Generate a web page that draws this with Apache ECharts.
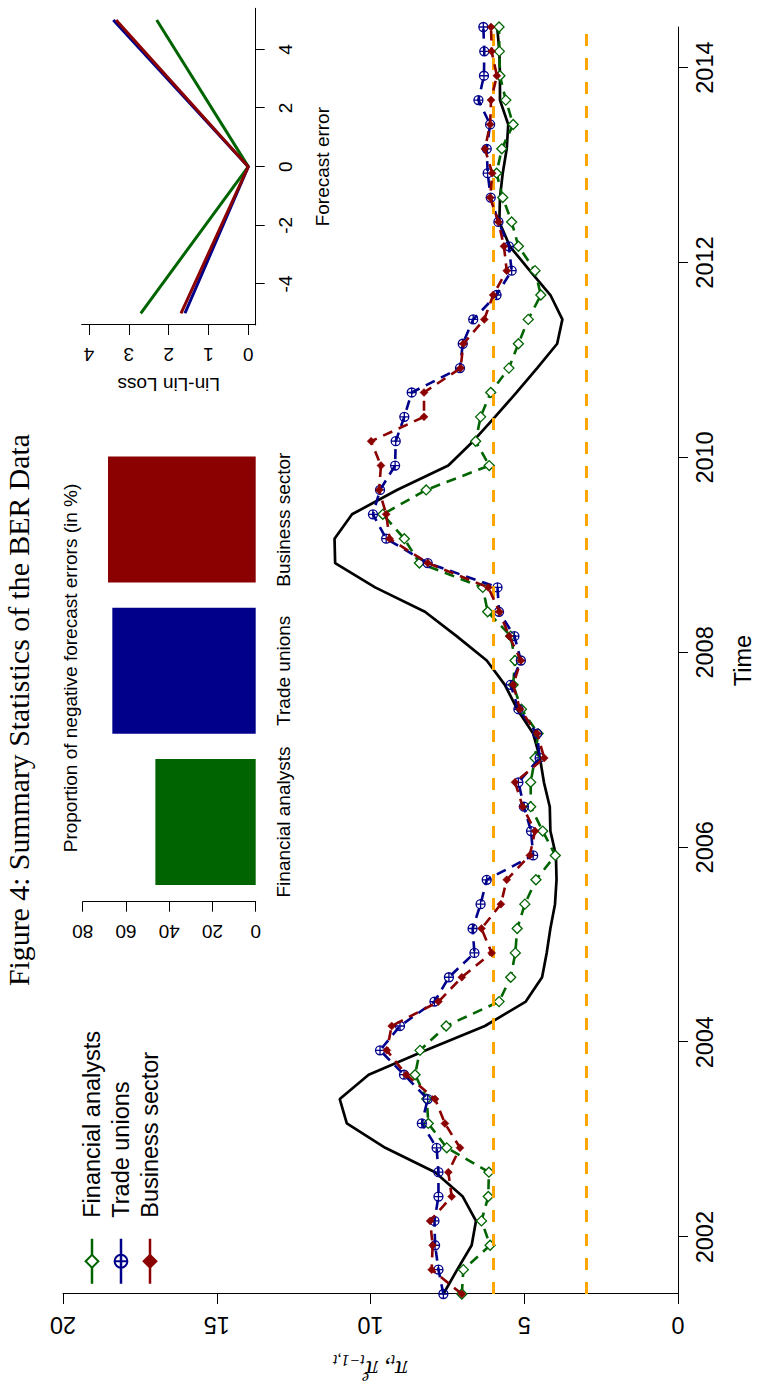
<!DOCTYPE html>
<html>
<head>
<meta charset="utf-8">
<script src="https://cdn.jsdelivr.net/npm/echarts@6/dist/echarts.min.js"></script>
<style>
  html, body { margin: 0; padding: 0; width: 760px; height: 1394px; overflow: hidden; background: #fff; }
  #c { position: absolute; left: 0; top: 0; width: 1394px; height: 760px;
       transform-origin: 0 0; transform: translate(0px, 1394px) rotate(-90deg); }
</style>
</head>
<body>
<div id="c"></div>
<script>
// ---------------- DATA ----------------
const dates = ['2001-06','2001-09','2001-12',
  '2002-03','2002-06','2002-09','2002-12','2003-03','2003-06','2003-09','2003-12',
  '2004-03','2004-06','2004-09','2004-12','2005-03','2005-06','2005-09','2005-12',
  '2006-03','2006-06','2006-09','2006-12','2007-03','2007-06','2007-09','2007-12',
  '2008-03','2008-06','2008-09','2008-12','2009-03','2009-06','2009-09','2009-12',
  '2010-03','2010-06','2010-09','2010-12','2011-03','2011-06','2011-09','2011-12',
  '2012-03','2012-06','2012-09','2012-12','2013-03','2013-06','2013-09','2013-12',
  '2014-03','2014-06'];
const actual = [7.63,7.18,6.71,6.57,7.00,7.90,9.52,10.77,11.00,10.06,8.20,6.28,4.95,4.42,4.27,4.15,4.00,3.95,3.97,4.15,
  4.17,4.36,4.49,4.71,5.23,5.63,6.22,7.20,8.23,9.85,11.15,11.17,10.60,9.14,7.47,6.66,5.95,5.25,4.58,3.93,
  3.76,4.15,4.82,5.47,5.81,5.79,5.70,5.57,5.52,5.79,5.79,5.81,5.88];
const financial = [7.03,6.98,6.11,6.39,6.17,6.15,7.52,8.12,8.17,8.55,8.39,7.54,5.82,5.44,5.29,5.23,4.98,4.62,3.99,4.40,
  4.79,4.79,4.65,4.55,5.09,5.36,5.30,5.44,6.19,6.35,8.41,8.90,9.60,8.19,6.14,6.58,6.42,6.09,5.50,5.19,
  4.87,4.46,4.65,5.19,5.41,5.70,5.90,5.73,5.36,5.60,5.79,5.81,5.82];
const tradeUnions = [7.63,7.79,7.90,7.92,7.79,7.79,7.85,8.33,8.14,8.91,9.69,9.04,7.92,7.45,6.62,6.68,6.42,6.22,4.71,4.78,
  5.01,5.19,4.50,4.58,5.19,5.44,5.11,5.32,5.82,5.87,8.14,9.49,9.92,9.69,9.20,9.18,8.90,8.66,7.09,7.00,
  6.66,5.90,5.41,5.50,5.84,6.09,6.19,6.22,6.11,6.49,6.31,6.30,6.33];
const business = [7.03,8.01,7.98,8.06,7.36,7.47,7.09,7.58,7.90,8.84,9.47,9.31,7.79,7.03,6.06,6.39,5.76,5.57,4.82,4.65,
  5.05,5.30,4.35,4.58,5.14,5.36,5.11,5.49,5.81,6.17,8.14,9.38,9.49,9.72,9.66,9.98,8.26,8.26,7.07,6.98,
  6.30,6.01,5.57,5.66,5.84,6.11,6.04,6.28,6.11,6.08,5.89,6.06,6.08];
const targetBand = [6, 3];
const yearTicks = [2002, 2004, 2006, 2008, 2010, 2012, 2014];

const groups = ['Financial analysts', 'Trade unions', 'Business sector'];
const negShare = [46.4, 66.3, 68.3];

const errorPoints = [-5, 0, 5];
const lossFinancial = [2.70, 0, 2.30];
const lossTrade = [1.59, 0, 3.39];
const lossBusiness = [1.69, 0, 3.32];
const errorTicks = [-4, -2, 0, 2, 4];
const lossTicks = [0, 1, 2, 3, 4];

// ---------------- STYLE ----------------
const GREEN = '#006400', BLUE = '#00008B', RED = '#8B0000', ORANGE = '#FFA500';
const SANS = 'Liberation Sans, Arial, Helvetica, sans-serif';
const SERIF = 'Liberation Serif, Times New Roman, serif';
const F_MAIN = 23.5, F_IN = 19;

const xs = dates.map(d => { const p = d.split('-'); return +p[0] + (+p[1] - 1) / 12; });
const pair = arr => arr.map((v, i) => [xs[i], v]);
const pairE = arr => arr.map((v, i) => [errorPoints[i], v]);

const axisLineStyle = { color: '#000', width: 1 };
const dash = [10, 7];
const plusCircle = 'path://M0,-10A10,10,0,1,1,0,10A10,10,0,1,1,0,-10ZM-10,0L10,0M0,-10L0,10';

const chart = echarts.init(document.getElementById('c'), null, { renderer: 'svg', width: 1394, height: 760 });

const option = {
  animation: false,
  backgroundColor: '#fff',
  textStyle: { fontFamily: SANS, color: '#000' },
  title: [
    { text: 'Figure 4: Summary Statistics of the BER Data', left: 684, top: 3, textAlign: 'center', padding: 0,
      textStyle: { fontFamily: SERIF, fontSize: 29.8, fontWeight: 'normal', color: '#000' } },
    { text: 'Proportion of negative forecast errors (in %)', left: 726, top: 61, textAlign: 'center', padding: 0,
      textStyle: { fontFamily: SANS, fontSize: F_IN, fontWeight: 'normal', color: '#000' } }
  ],
  legend: {
    data: groups, orient: 'vertical', left: 104, top: 75,
    itemWidth: 45, itemHeight: 16, itemGap: 5,
    textStyle: { fontFamily: SANS, fontSize: F_MAIN, color: '#000', lineHeight: 24, padding: [0, 0, 0, 16] },
    lineStyle: { type: 'solid', width: 2.5 }
  },
  grid: [
    { left: 99, right: 27, top: 63, bottom: 81.7 },
    { left: 496.4, width: 453.6, top: 82.7, bottom: 504.3 },
    { left: 1069, right: 8.3, top: 81.7, bottom: 504.3 }
  ],
  xAxis: [
    { gridIndex: 0, type: 'value', min: xs[0], max: xs[xs.length - 1],
      axisLine: { show: true, onZero: false, lineStyle: axisLineStyle },
      axisTick: { show: true, length: 10, customValues: yearTicks, lineStyle: axisLineStyle },
      axisLabel: { customValues: yearTicks, fontSize: F_MAIN, color: '#000', margin: 15, fontFamily: SANS,
                   formatter: v => String(Math.round(v)) },
      splitLine: { show: false },
      name: 'Time', nameLocation: 'middle', nameGap: 53,
      nameTextStyle: { fontSize: F_MAIN, color: '#000', fontFamily: SANS } },
    { gridIndex: 1, type: 'category', data: groups,
      axisLine: { show: false }, axisTick: { show: false },
      axisLabel: { fontSize: F_IN, color: '#000', margin: 18, fontFamily: SANS, interval: 0 } },
    { gridIndex: 2, type: 'value', min: -5.4, max: 5.4,
      axisLine: { show: true, onZero: false, lineStyle: axisLineStyle },
      axisTick: { show: true, length: 9, customValues: errorTicks, lineStyle: axisLineStyle },
      axisLabel: { customValues: errorTicks, fontSize: F_IN, color: '#000', margin: 20, fontFamily: SANS },
      splitLine: { show: false },
      name: 'Forecast error', nameLocation: 'middle', nameGap: 57,
      nameTextStyle: { fontSize: F_IN, color: '#000', fontFamily: SANS } }
  ],
  yAxis: [
    { gridIndex: 0, type: 'value', min: 0, max: 20, interval: 5,
      axisLine: { show: true, onZero: false, lineStyle: axisLineStyle },
      axisTick: { show: true, length: 10, lineStyle: axisLineStyle },
      axisLabel: { rotate: 90, fontSize: F_MAIN, color: '#000', margin: 19, fontFamily: SANS },
      splitLine: { show: false },
      name: '{pi|π}{sb|t}{pi|, π}{sp|e}{sb|t−1,t}', nameLocation: 'middle', nameGap: 58, nameRotate: 90,
      nameTextStyle: { rich: {
        pi: { fontFamily: SERIF, fontStyle: 'italic', fontSize: 25, lineHeight: 34, verticalAlign: 'middle', color: '#000' },
        sb: { fontFamily: SERIF, fontStyle: 'italic', fontSize: 16, lineHeight: 16, verticalAlign: 'bottom', color: '#000' },
        sp: { fontFamily: SERIF, fontStyle: 'italic', fontSize: 16, lineHeight: 16, verticalAlign: 'top', width: 1, color: '#000' }
      } } },
    { gridIndex: 1, type: 'value', min: 0, max: 80, interval: 20, offset: 4.1,
      axisLine: { show: true, lineStyle: axisLineStyle },
      axisTick: { show: true, length: 10, lineStyle: axisLineStyle },
      axisLabel: { rotate: 90, fontSize: F_IN, color: '#000', margin: 20, fontFamily: SANS },
      splitLine: { show: false } },
    { gridIndex: 2, type: 'value', min: -0.186, max: 4.183,
      axisLine: { show: true, onZero: false, lineStyle: axisLineStyle },
      axisTick: { show: true, length: 10, customValues: lossTicks, lineStyle: axisLineStyle },
      axisLabel: { customValues: lossTicks, rotate: 90, fontSize: F_IN, color: '#000', margin: 20, fontFamily: SANS },
      splitLine: { show: false },
      name: 'Lin-Lin Loss', nameLocation: 'middle', nameGap: 50, nameRotate: 90,
      nameTextStyle: { fontSize: F_IN, color: '#000', fontFamily: SANS } }
  ],
  series: [
    { name: 'Actual', type: 'line', xAxisIndex: 0, yAxisIndex: 0, data: pair(actual),
      symbol: 'none', lineStyle: { color: '#000', width: 2.7 }, itemStyle: { color: '#000' }, z: 2,
      markLine: { silent: true, symbol: 'none', label: { show: false },
        lineStyle: { color: ORANGE, width: 3, type: [12, 12] },
        data: targetBand.map(v => ({ yAxis: v })) } },
    { name: groups[0], type: 'line', xAxisIndex: 0, yAxisIndex: 0, data: pair(financial),
      symbol: 'diamond', symbolSize: 10,
      lineStyle: { color: GREEN, width: 2.6, type: dash },
      itemStyle: { color: '#fff', borderColor: GREEN, borderWidth: 1.3 }, z: 3 },
    { name: groups[1], type: 'line', xAxisIndex: 0, yAxisIndex: 0, data: pair(tradeUnions),
      symbol: plusCircle, symbolSize: 9,
      lineStyle: { color: BLUE, width: 2.6, type: dash },
      itemStyle: { color: 'rgba(255,255,255,0)', borderColor: BLUE, borderWidth: 1.3 }, z: 4 },
    { name: groups[2], type: 'line', xAxisIndex: 0, yAxisIndex: 0, data: pair(business),
      symbol: 'diamond', symbolSize: 8,
      lineStyle: { color: RED, width: 2.6, type: dash },
      itemStyle: { color: RED, borderColor: RED, borderWidth: 0.5 }, z: 5 },
    { name: 'share', type: 'bar', xAxisIndex: 1, yAxisIndex: 1, barWidth: 126,
      data: negShare.map((v, i) => ({ value: v, itemStyle: { color: [GREEN, BLUE, RED][i] } })) },
    { name: 'loss FA', type: 'line', xAxisIndex: 2, yAxisIndex: 2, data: pairE(lossFinancial),
      symbol: 'none', lineStyle: { color: GREEN, width: 3 } },
    { name: 'loss TU', type: 'line', xAxisIndex: 2, yAxisIndex: 2, data: pairE(lossTrade),
      symbol: 'none', lineStyle: { color: BLUE, width: 3 } },
    { name: 'loss BS', type: 'line', xAxisIndex: 2, yAxisIndex: 2, data: pairE(lossBusiness),
      symbol: 'none', lineStyle: { color: RED, width: 3 } }
  ]
};
chart.setOption(option);
</script>
</body>
</html>
